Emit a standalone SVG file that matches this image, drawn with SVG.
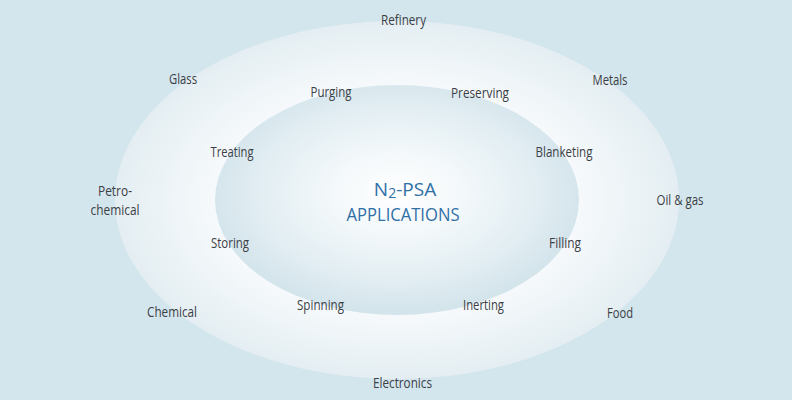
<svg xmlns="http://www.w3.org/2000/svg" width="792" height="400" viewBox="0 0 792 400">
  <defs>
    <radialGradient id="outerGrad" cx="0.5" cy="0.5" r="0.5">
      <stop offset="0" stop-color="#ffffff"/>
      <stop offset="0.62" stop-color="#f7fafc"/>
      <stop offset="1" stop-color="#e4eef2"/>
    </radialGradient>
    <radialGradient id="innerGrad" cx="0.5" cy="0.47" r="0.52">
      <stop offset="0" stop-color="#ffffff"/>
      <stop offset="0.35" stop-color="#f3f8fa"/>
      <stop offset="0.75" stop-color="#e1edf2"/>
      <stop offset="1" stop-color="#d3e4eb"/>
    </radialGradient>
    <style>
      .lbl { font-family: "Open Sans", "Liberation Sans", sans-serif; font-size: 14px; fill: #3b4046; text-anchor: middle; }
      .title { font-family: "Open Sans", "Liberation Sans", sans-serif; font-size: 19px; fill: #2f6fa6; text-anchor: middle; }
    </style>
  </defs>
  <rect id="background" x="0" y="0" width="792" height="400" fill="#d4e6ed"/>
  <g id="rings">
    <ellipse id="outer-ring" cx="397" cy="200" rx="282" ry="179" fill="url(#outerGrad)"/>
    <ellipse id="inner-ring" cx="397" cy="200" rx="182" ry="115" fill="url(#innerGrad)"/>
  </g>
  <g id="connectors"/>
  <g id="center">
    <text class="title" x="405" y="196">N<tspan font-size="14" dy="2">2</tspan><tspan dy="-2">-PSA</tspan></text>
    <text class="title" x="403" y="221" textLength="113" lengthAdjust="spacingAndGlyphs">APPLICATIONS</text>
  </g>
  <g id="industries">
    <g id="refinery"><text class="lbl" x="403.5" y="25" textLength="45" lengthAdjust="spacingAndGlyphs">Refinery</text></g>
    <g id="glass"><text class="lbl" x="183" y="84" textLength="28" lengthAdjust="spacingAndGlyphs">Glass</text></g>
    <g id="metals"><text class="lbl" x="610" y="85" textLength="35" lengthAdjust="spacingAndGlyphs">Metals</text></g>
    <g id="petrochemical">
      <text class="lbl" x="115" y="196" textLength="34" lengthAdjust="spacingAndGlyphs">Petro-</text>
      <text class="lbl" x="115" y="215" textLength="49" lengthAdjust="spacingAndGlyphs">chemical</text>
    </g>
    <g id="oil-gas"><text class="lbl" x="680" y="205" textLength="47" lengthAdjust="spacingAndGlyphs">Oil &amp; gas</text></g>
    <g id="chemical"><text class="lbl" x="172" y="317" textLength="50" lengthAdjust="spacingAndGlyphs">Chemical</text></g>
    <g id="food"><text class="lbl" x="620" y="318" textLength="26" lengthAdjust="spacingAndGlyphs">Food</text></g>
    <g id="electronics"><text class="lbl" x="402.5" y="388" textLength="59" lengthAdjust="spacingAndGlyphs">Electronics</text></g>
  </g>
  <g id="processes">
    <g id="purging"><text class="lbl" x="331" y="97" textLength="41" lengthAdjust="spacingAndGlyphs">Purging</text></g>
    <g id="preserving"><text class="lbl" x="480" y="98" textLength="58" lengthAdjust="spacingAndGlyphs">Preserving</text></g>
    <g id="treating"><text class="lbl" x="232" y="157" textLength="43" lengthAdjust="spacingAndGlyphs">Treating</text></g>
    <g id="blanketing"><text class="lbl" x="564" y="157" textLength="57" lengthAdjust="spacingAndGlyphs">Blanketing</text></g>
    <g id="storing"><text class="lbl" x="230" y="248" textLength="38" lengthAdjust="spacingAndGlyphs">Storing</text></g>
    <g id="filling"><text class="lbl" x="565" y="248" textLength="32" lengthAdjust="spacingAndGlyphs">Filling</text></g>
    <g id="spinning"><text class="lbl" x="320.5" y="310" textLength="47" lengthAdjust="spacingAndGlyphs">Spinning</text></g>
    <g id="inerting"><text class="lbl" x="483.5" y="310" textLength="41" lengthAdjust="spacingAndGlyphs">Inerting</text></g>
  </g>
</svg>
